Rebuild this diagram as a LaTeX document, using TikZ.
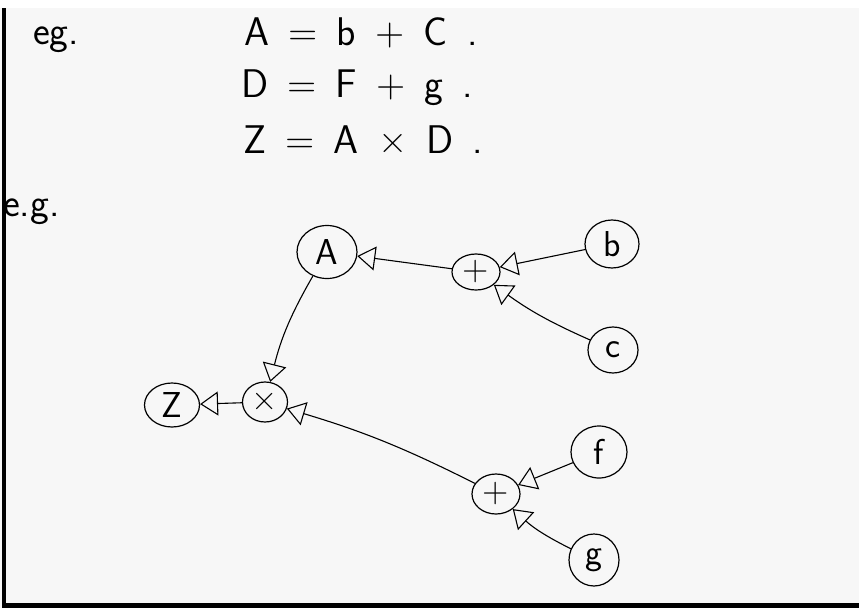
\documentclass[tikz,border=0pt]{standalone}
\usepackage{tikz}
\usetikzlibrary{arrows.meta,shapes.geometric}

\begin{document}
\begin{tikzpicture}[x=1pt, y=-1pt,
  hand/.style={font=\sffamily\fontsize{40}{44}\selectfont, inner sep=0pt},
  var/.style={draw, ellipse, line width=1.2pt, inner sep=0pt,
    font=\sffamily\fontsize{36}{40}\selectfont},
  flow/.style={line width=1.1pt,
    -{Triangle[open, length=18pt, width=24pt, line width=1.1pt]}}]

% === PAGE ===
\fill[gray!6] (0,8) rectangle (859,608);
\fill[white] (0,0) rectangle (859,8);
\useasboundingbox (0,0) rectangle (859,608);
\fill[black] (2,8) rectangle (6,608);
\fill[black] (2,603) rectangle (859,608);

% === EQUATIONS ===
\node[hand, anchor=west] (eg) at (33,40) {eg.};
\node[hand, anchor=west] (eqA) at (244,33) {A\, =\, b\, +\, C\, .};
\node[hand, anchor=west] (eqD) at (241,88) {D\, =\, F\, +\, g\, .};
\node[hand, anchor=west] (eqZ) at (243,140) {Z\, =\, A\, \texttimes\, D\, .};
\node[hand, anchor=west] (eg2) at (3,212) {e.g.};

% === GRAPH ===
\node[var, minimum width=60pt, minimum height=53pt] (A) at (327,252) {A};
\node[var, minimum width=48pt, minimum height=36pt] (plusA) at (476,272) {+};
\node[var, minimum width=54pt, minimum height=48pt] (b) at (612,244) {b};
\node[var, minimum width=50pt, minimum height=46pt] (c) at (613,350) {c};
\node[var, minimum width=45pt, minimum height=40pt] (times) at (265,402) {\texttimes};
\node[var, minimum width=55pt, minimum height=44pt] (Z) at (172,405) {Z};
\node[var, minimum width=48pt, minimum height=40pt] (plusD) at (496,494) {+};
\node[var, minimum width=56pt, minimum height=52pt] (f) at (599,452) {f};
\node[var, minimum width=50pt, minimum height=52pt] (g) at (594,560) {g};

\draw[flow] (plusA) -- (A);
\draw[flow] (b) -- (plusA);
\draw[flow] (c) to[bend left=6] (plusA);
\draw[flow] (A) to[bend right=8] (times);
\draw[flow] (times) -- (Z);
\draw[flow] (plusD) to[bend right=5] (times);
\draw[flow] (f) -- (plusD);
\draw[flow] (g) to[bend left=8] (plusD);

\end{tikzpicture}
\end{document}
